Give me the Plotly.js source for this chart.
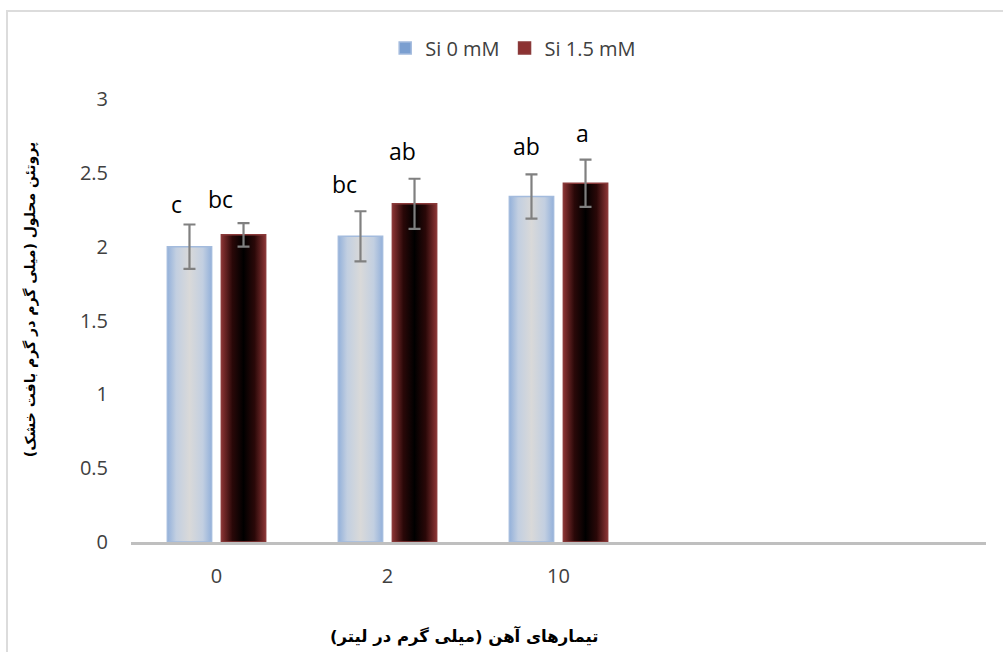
<!DOCTYPE html>
<html>
<head>
<meta charset="utf-8">
<script src="https://cdn.plot.ly/plotly-3.0.1.min.js"></script>
<style>
html,body{margin:0;padding:0;background:#fff;}
#chart{width:1003px;height:652px;}
</style>
</head>
<body>
<div id="chart"></div>
<script>
// ---- data ----
const categories = ['0', '2', '10'];
const seriesNames = ['Si 0 mM', 'Si 1.5 mM'];
const si0 = [2.00, 2.07, 2.34];
const si15 = [2.08, 2.29, 2.43];
const err0 = [0.15, 0.17, 0.15];
const err15 = [0.08, 0.17, 0.16];
const letters0 = ['c', 'bc', 'ab'];
const letters15 = ['bc', 'ab', 'a'];
const xTitle = 'تیمارهای آهن (میلی گرم در لیتر)';
const yTitle = 'پروتئن محلول (میلی گرم در گرم بافت خشک)';

// ---- style ----
const tickFont = {family: 'Open Sans, sans-serif', size: 20, color: '#404040'};
const letterFont = {family: 'Open Sans, sans-serif', size: 23, color: '#000000'};
const xTitleFont = {family: 'DejaVu Sans, sans-serif', size: 16.5, color: '#000000', weight: 'bold'};
const yTitleFont = {family: 'DejaVu Sans, sans-serif', size: 14, color: '#000000', weight: 'bold'};
const errStyle = {color: '#808080', thickness: 2.2, width: 6};

const traces = [
  {
    type: 'bar', name: seriesNames[0], x: categories, y: si0,
    marker: {color: '#7b9fd0', line: {color: '#a3bbdd', width: 1.5}},
    error_y: Object.assign({type: 'data', array: err0, visible: true}, errStyle)
  },
  {
    type: 'bar', name: seriesNames[1], x: categories, y: si15,
    marker: {color: '#8c3232', line: {color: '#8a3a3a', width: 1.5}},
    error_y: Object.assign({type: 'data', array: err15, visible: true}, errStyle)
  }
];

// letter annotations placed above error bars (x given as category index)
const letterDx0 = [-40, -43, -32];
const letterDx15 = [4, 15, 24];
const letterDy0 = [3, 9, 10];
const letterDy15 = [6, 10, 9];
const annotations = [];
categories.forEach((c, i) => {
  annotations.push({x: i, y: si0[i] + err0[i], xref: 'x', yref: 'y', text: letters0[i],
    showarrow: false, xanchor: 'center', yanchor: 'bottom', xshift: letterDx0[i], yshift: letterDy0[i], font: letterFont});
  annotations.push({x: i, y: si15[i] + err15[i], xref: 'x', yref: 'y', text: letters15[i],
    showarrow: false, xanchor: 'center', yanchor: 'bottom', xshift: letterDx15[i], yshift: letterDy15[i], font: letterFont});
});
annotations.push({x: 0.3895, y: -0.212, xref: 'paper', yref: 'paper', text: xTitle, showarrow: false,
  xanchor: 'center', yanchor: 'middle', font: xTitleFont});
annotations.push({x: -0.118, y: 0.546, xref: 'paper', yref: 'paper', text: yTitle, showarrow: false,
  textangle: -90, xanchor: 'center', yanchor: 'middle', font: yTitleFont});

const layout = {
  width: 1003, height: 652,
  margin: {l: 131, r: 17, t: 99, b: 110},
  paper_bgcolor: '#ffffff', plot_bgcolor: '#ffffff',
  barmode: 'group', bargap: 0.368, bargroupgap: 0.18,
  showlegend: true,
  legend: {orientation: 'h', x: 0.447, y: 1.115, xanchor: 'center', yanchor: 'middle',
    font: {family: 'Open Sans, sans-serif', size: 20, color: '#404040'}, itemwidth: 30, traceorder: 'normal'},
  xaxis: {type: 'category', range: [-0.5, 4.5], showline: true, linecolor: '#bfbfbf', linewidth: 3,
    showgrid: false, ticks: '', tickfont: tickFont, ticklabelstandoff: 14, zeroline: false, fixedrange: true},
  yaxis: {range: [0, 3], dtick: 0.5, showline: false, showgrid: false, zeroline: false, ticks: '',
    tickfont: tickFont, ticklabelstandoff: 22, fixedrange: true},
  annotations: annotations,
  shapes: [{type: 'rect', xref: 'paper', yref: 'paper', x0: -0.145, x1: 1.05, y0: -0.3, y1: 1.1986,
    line: {color: '#dcdcdc', width: 2}, fillcolor: 'rgba(0,0,0,0)', layer: 'below'}]
};

Plotly.newPlot('chart', traces, layout, {displayModeBar: false, staticPlot: true}).then(gd => {
  const svg = gd.querySelector('.main-svg');
  const ns = 'http://www.w3.org/2000/svg';
  let defs = svg.querySelector('defs');
  if (!defs) { defs = document.createElementNS(ns, 'defs'); svg.insertBefore(defs, svg.firstChild); }
  const grads = [
    {id: 'gradBlue', stops: [[0, '#94b1da'], [0.2, '#c2cfe1'], [0.5, '#d9d9d9'], [0.8, '#c2cfe1'], [1, '#94b1da']]},
    {id: 'gradDark', stops: [[0, '#8a3434'], [0.25, '#2a0808'], [0.5, '#000000'], [0.75, '#2a0808'], [1, '#8a3434']]}
  ];
  grads.forEach(g => {
    const lg = document.createElementNS(ns, 'linearGradient');
    lg.setAttribute('id', g.id);
    lg.setAttribute('x1', '0'); lg.setAttribute('x2', '1'); lg.setAttribute('y1', '0'); lg.setAttribute('y2', '0');
    g.stops.forEach(s => {
      const st = document.createElementNS(ns, 'stop');
      st.setAttribute('offset', s[0]);
      st.setAttribute('stop-color', s[1]);
      lg.appendChild(st);
    });
    defs.appendChild(lg);
  });
  const barTraces = gd.querySelectorAll('.barlayer .trace');
  barTraces.forEach((t, i) => {
    t.querySelectorAll('.point path').forEach(p => {
      p.style.fill = 'url(#' + grads[i].id + ')';
    });
  });
});
</script>
</body>
</html>
